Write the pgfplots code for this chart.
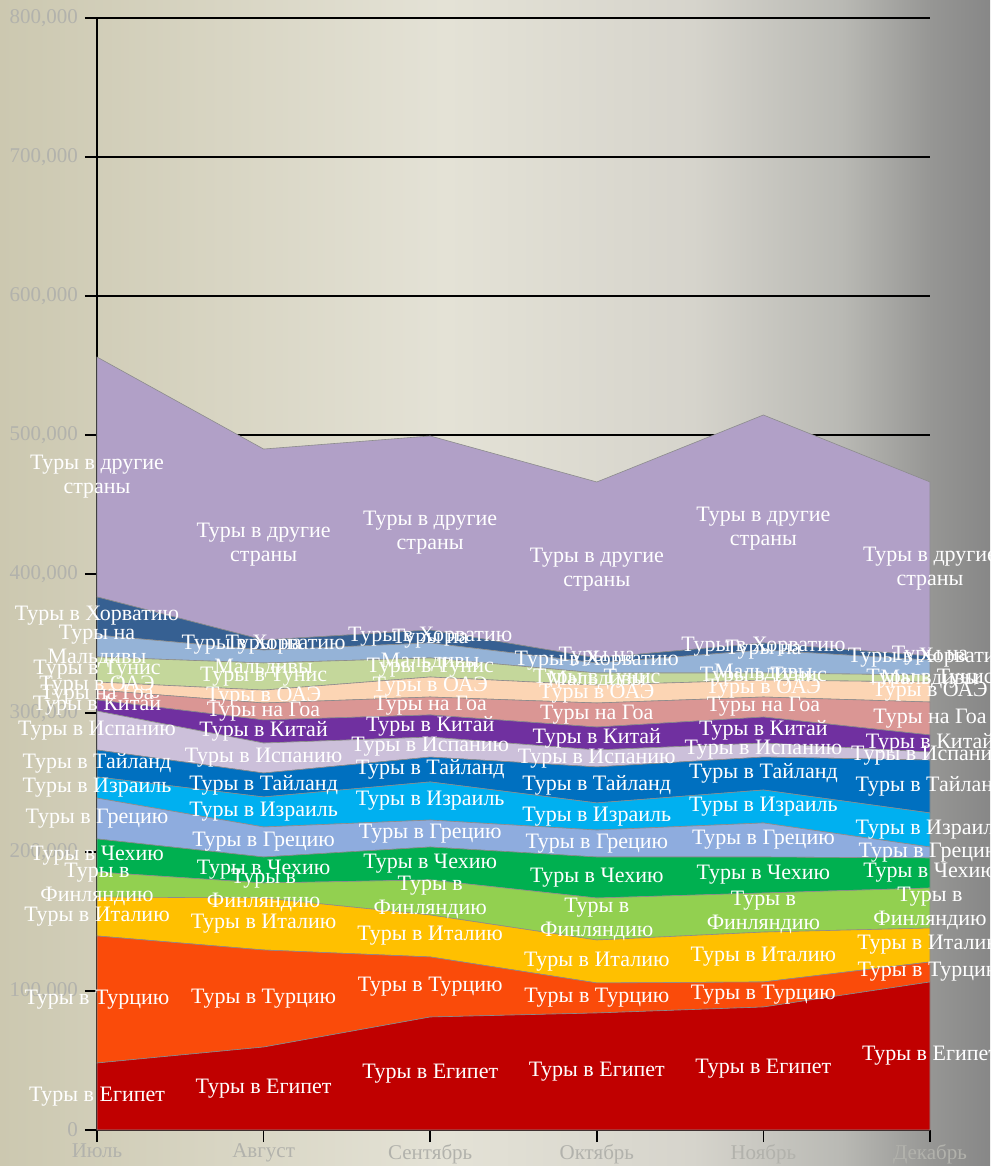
\documentclass[border=0pt]{standalone}
\usepackage{pgfplots}
\pgfplotsset{compat=1.18}
\usepackage{pgfplotstable}
\usepackage{fontspec}
\setmainfont{Liberation Serif}

\definecolor{cEg}{RGB}{192,0,0}
\definecolor{cTr}{RGB}{250,75,10}
\definecolor{cIt}{RGB}{255,192,0}
\definecolor{cFi}{RGB}{146,208,80}
\definecolor{cCz}{RGB}{0,176,80}
\definecolor{cGr}{RGB}{142,172,222}
\definecolor{cIl}{RGB}{0,176,240}
\definecolor{cTh}{RGB}{0,112,192}
\definecolor{cEs}{RGB}{204,192,218}
\definecolor{cCn}{RGB}{112,48,160}
\definecolor{cGoa}{RGB}{218,150,148}
\definecolor{cUae}{RGB}{252,213,180}
\definecolor{cTn}{RGB}{196,215,155}
\definecolor{cMv}{RGB}{149,179,215}
\definecolor{cHr}{RGB}{54,96,146}
\definecolor{cOt}{RGB}{177,160,199}
\definecolor{bgA}{RGB}{204,200,176}
\definecolor{bgB}{RGB}{228,226,214}
\definecolor{bgC}{RGB}{214,212,204}
\definecolor{bgD}{RGB}{185,185,180}
\definecolor{bgF}{RGB}{150,150,148}
\definecolor{bgE}{RGB}{135,135,135}
\definecolor{tickgray}{RGB}{178,178,172}

% the path is mapped onto 25bp..75bp of the shading
\pgfdeclarehorizontalshading{bgshade}{100bp}{color(0bp)=(bgA); color(25bp)=(bgA); color(47.5bp)=(bgB); color(60bp)=(bgC); color(67.5bp)=(bgD); color(72bp)=(bgF); color(75bp)=(bgE); color(100bp)=(bgE)}

% values in thousands
\pgfplotstableread{
x eg tr it fi cz gr il th es cn goa uae tn mv hr ot
0 48.2 91.4 28.0 18.0 23.8 29.4 15.2 19.4 28.0 8.0 7.1 5.8 18.0 15.8 27.4 172.6
1 59.7 69.8 37.4 10.8 18.7 21.6 21.6 17.2 21.6 16.6 12.2 9.3 19.5 9.3 7.2 137.4
2 81.3 43.2 30.2 25.2 23.7 19.4 27.4 17.9 14.4 15.9 12.9 14.4 13.7 10.8 9.3 139.6
3 84.2 21.6 30.9 30.2 29.5 19.4 19.5 25.9 12.2 16.5 17.3 12.9 8.7 7.2 3.6 126.6
4 88.5 18.0 35.9 28.1 25.9 24.5 23.7 23.7 10.1 18.7 14.4 12.2 5.1 16.5 5.1 164.0
5 106.5 14.4 24.4 28.8 21.6 7.9 24.5 38.1 5.7 12.3 23.7 14.4 5.0 10.8 2.9 125.2
}\data

\pgfplotsset{
  base/.style={
    at={(0,0)}, anchor=south west,
    scale only axis, width=416.5pt, height=556pt,
    xmin=0, xmax=5, ymin=0, ymax=800,
    stack plots=y, clip=false,
  },
  area/.style={fill=#1, draw=black!45, line width=0.3pt},
  lab/.style={draw=none, mark=none, nodes near coords={#1}},
}

\begin{document}
\begin{tikzpicture}
\useasboundingbox (-48.5pt,-18pt) rectangle (446.5pt,565pt);
\clip (-48.5pt,-18pt) rectangle (446.5pt,565pt);
\shade[shading=bgshade] (-48.5pt,-18pt) rectangle (446.5pt,565pt);

\begin{axis}[base,
  axis lines=left, axis line style={-, black, line width=1pt},
  xtick={0,1,2,3,4,5},
  xticklabels={Июль,Август,Сентябрь,Октябрь,Ноябрь,Декабрь},
  ytick={0,100,200,300,400,500,600,700,800},
  yticklabels={0,{100,000},{200,000},{300,000},{400,000},{500,000},{600,000},{700,000},{800,000}},
  ymajorgrids, grid style={black, line width=0.9pt},
  tick align=outside, major tick length=6pt,
  tick style={black, line width=0.9pt},
  tick label style={font=\fontsize{10.5}{12}\selectfont, text=tickgray},
  xticklabel style={yshift=2.5pt},
]
\addplot[area=cEg] table[x=x,y=eg]{\data} \closedcycle;
\addplot[area=cTr] table[x=x,y=tr]{\data} \closedcycle;
\addplot[area=cIt] table[x=x,y=it]{\data} \closedcycle;
\addplot[area=cFi] table[x=x,y=fi]{\data} \closedcycle;
\addplot[area=cCz] table[x=x,y=cz]{\data} \closedcycle;
\addplot[area=cGr] table[x=x,y=gr]{\data} \closedcycle;
\addplot[area=cIl] table[x=x,y=il]{\data} \closedcycle;
\addplot[area=cTh] table[x=x,y=th]{\data} \closedcycle;
\addplot[area=cEs] table[x=x,y=es]{\data} \closedcycle;
\addplot[area=cCn] table[x=x,y=cn]{\data} \closedcycle;
\addplot[area=cGoa] table[x=x,y=goa]{\data} \closedcycle;
\addplot[area=cUae] table[x=x,y=uae]{\data} \closedcycle;
\addplot[area=cTn] table[x=x,y=tn]{\data} \closedcycle;
\addplot[area=cMv] table[x=x,y=mv]{\data} \closedcycle;
\addplot[area=cHr] table[x=x,y=hr]{\data} \closedcycle;
\addplot[area=cOt] table[x=x,y=ot]{\data} \closedcycle;
\end{axis}

% labels: stacked half-sums put each label at the middle of its band
\begin{axis}[base, hide axis,
  every node near coord/.append style={anchor=center,
    text=white, font=\fontsize{11}{12}\selectfont, align=center, inner sep=0pt},
]
\addplot[lab={Туры в Египет}] table[x=x,y expr=\thisrow{eg}/2]{\data};
\addplot[lab={Туры в Турцию}] table[x=x,y expr=(\thisrow{eg}+\thisrow{tr})/2]{\data};
\addplot[lab={Туры в Италию}] table[x=x,y expr=(\thisrow{tr}+\thisrow{it})/2]{\data};
\addplot[lab={Туры в\\Финляндию}] table[x=x,y expr=(\thisrow{it}+\thisrow{fi})/2]{\data};
\addplot[lab={Туры в Чехию}] table[x=x,y expr=(\thisrow{fi}+\thisrow{cz})/2]{\data};
\addplot[lab={Туры в Грецию}] table[x=x,y expr=(\thisrow{cz}+\thisrow{gr})/2]{\data};
\addplot[lab={Туры в Израиль}] table[x=x,y expr=(\thisrow{gr}+\thisrow{il})/2]{\data};
\addplot[lab={Туры в Тайланд}] table[x=x,y expr=(\thisrow{il}+\thisrow{th})/2]{\data};
\addplot[lab={Туры в Испанию}] table[x=x,y expr=(\thisrow{th}+\thisrow{es})/2]{\data};
\addplot[lab={Туры в Китай}] table[x=x,y expr=(\thisrow{es}+\thisrow{cn})/2]{\data};
\addplot[lab={Туры на Гоа}] table[x=x,y expr=(\thisrow{cn}+\thisrow{goa})/2]{\data};
\addplot[lab={Туры в ОАЭ}] table[x=x,y expr=(\thisrow{goa}+\thisrow{uae})/2]{\data};
\addplot[lab={Туры в Тунис}] table[x=x,y expr=(\thisrow{uae}+\thisrow{tn})/2]{\data};
\addplot[lab={Туры на\\Мальдивы}] table[x=x,y expr=(\thisrow{tn}+\thisrow{mv})/2]{\data};
\addplot[lab={Туры в Хорватию}] table[x=x,y expr=(\thisrow{mv}+\thisrow{hr})/2]{\data};
\addplot[lab={Туры в другие\\страны}] table[x=x,y expr=(\thisrow{hr}+\thisrow{ot})/2]{\data};
\end{axis}
\end{tikzpicture}
\end{document}
